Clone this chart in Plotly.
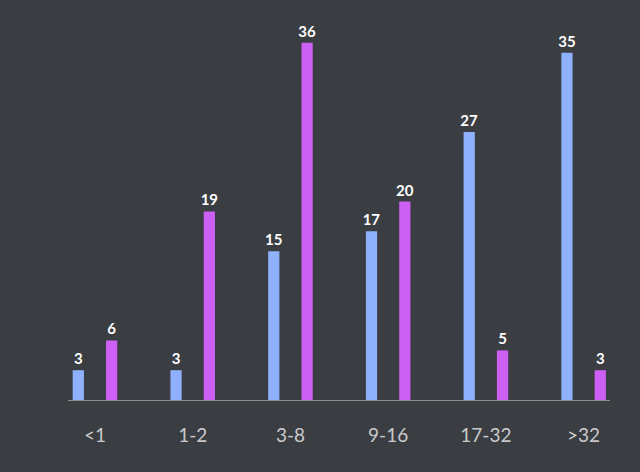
import plotly.graph_objects as go

categories = ["<1", "1-2", "3-8", "9-16", "17-32", ">32"]
series_a = [3, 3, 15, 17, 27, 35]
series_b = [6, 19, 36, 20, 5, 3]

BG = "#3a3d42"
BLUE = "#8fb1fb"
PURPLE = "#cc5ff4"

label_font = dict(family="Lato", size=15, color="white", weight="bold")

fig = go.Figure()
fig.add_trace(go.Bar(
    x=categories, y=series_a, marker_color=BLUE, marker_line_width=0,
    width=0.115, offset=-0.228,
    text=[str(v) for v in series_a], textposition="outside",
    textfont=label_font, constraintext="none",
    cliponaxis=False,
))
fig.add_trace(go.Bar(
    x=categories, y=series_b, marker_color=PURPLE, marker_line_width=0,
    width=0.115, offset=0.113,
    text=[str(v) for v in series_b], textposition="outside",
    textfont=label_font, constraintext="none",
    cliponaxis=False,
))

fig.update_layout(
    width=640, height=472,
    paper_bgcolor=BG, plot_bgcolor=BG,
    margin=dict(l=68, r=30, t=3, b=72),
    showlegend=False,
    barmode="overlay",
    xaxis=dict(
        range=[-0.276, 5.27], showgrid=False, zeroline=False,
        showline=True, linecolor="#8a8c90", linewidth=1,
        ticks="", ticklabelstandoff=18,
        tickfont=dict(family="Lato", size=19, color="#c9cacc"),
    ),
    yaxis=dict(range=[0, 40], visible=False, showgrid=False, zeroline=False),
)

fig.write_html("out.html")
